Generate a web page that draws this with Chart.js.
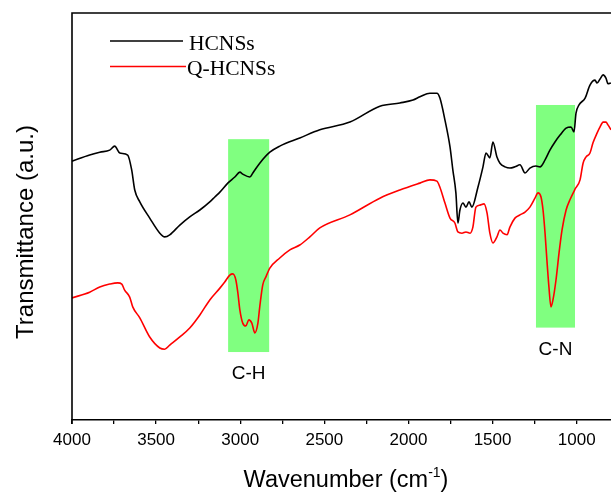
<!DOCTYPE html>
<html>
<head>
<meta charset="utf-8">
<script src="https://cdn.jsdelivr.net/npm/chart.js@4.4.1/dist/chart.umd.min.js"></script>
<style>
  html, body { margin: 0; padding: 0; background: #fff; }
  #wrap { width: 611px; height: 492px; }
</style>
</head>
<body>
<div id="wrap"><canvas id="c" width="611" height="492"></canvas></div>
<script>
// ---- data ----
const seriesNames = ['HCNSs', 'Q-HCNSs'];

const hcnsWn = [4000,3895,3835,3776,3746,3716,3669,3645,3627,3597,3538,3478,3449,3419,3359,3300,3240,3181,3151,3121,3074,3032,3002,2985,2943,2925,2884,2824,2765,2646,2527,2348,2170,2051,1973,1932,1872,1831,1813,1783,1753,1736,1718,1706,1694,1676,1658,1640,1623,1587,1557,1539,1516,1498,1474,1456,1426,1397,1367,1337,1307,1278,1242,1218,1188,1159,1129,1099,1063,1034,1016,1004,986,950,921,891,879,861,843,826,814,796];
const hcnsT  = [63.6,65.1,65.8,66.3,67.3,65.6,65.1,61.4,56.5,53.6,49.6,45.9,45.0,45.5,47.9,49.9,51.6,53.6,54.8,56.0,58.2,59.7,60.9,60.4,59.7,60.7,63.1,65.8,67.3,69.3,71.3,73.2,77.1,77.9,78.6,79.4,80.3,80.3,79.1,73.7,67.1,61.4,55.8,48.4,51.6,53.3,52.3,53.6,52.3,57.2,62.2,65.6,64.4,68.3,64.6,63.1,62.2,61.9,62.2,62.7,60.7,61.9,62.4,62.2,63.9,66.3,68.3,70.0,71.7,72.0,70.8,75.4,77.4,79.1,82.3,83.5,82.8,83.8,84.8,84.0,82.6,82.8];

const qhcnsWn = [4000,3895,3835,3776,3728,3704,3687,3657,3639,3597,3538,3478,3449,3419,3359,3300,3240,3181,3121,3092,3062,3044,3026,3014,3002,2985,2967,2949,2931,2913,2895,2884,2866,2848,2824,2765,2705,2646,2586,2527,2348,2170,2051,1932,1872,1831,1813,1783,1753,1724,1706,1682,1658,1634,1617,1599,1575,1551,1533,1516,1498,1474,1456,1438,1414,1397,1367,1337,1307,1278,1248,1230,1212,1200,1188,1177,1165,1153,1141,1123,1105,1087,1063,1040,1010,980,962,945,921,903,879,861,843,826,814,796];
const qhcnsT  = [30.0,31.4,32.7,33.4,33.7,33.4,31.9,30.2,27.8,25.1,20.4,17.7,17.4,18.4,20.4,22.6,25.8,29.5,32.4,33.9,35.6,35.9,34.4,31.2,27.0,23.8,23.1,24.6,23.8,21.4,23.8,27.8,33.2,35.1,37.3,39.8,41.8,43.0,45.0,47.2,50.4,54.5,56.5,58.2,59.0,58.7,57.2,53.3,49.6,48.4,46.2,45.9,46.2,45.9,47.4,52.3,52.8,53.1,50.9,45.9,43.5,45.0,46.7,45.9,45.5,47.4,49.6,50.4,51.1,52.3,54.5,55.8,54.8,51.6,45.9,39.3,32.7,27.8,29.5,34.4,41.0,46.7,51.6,54.1,56.7,59.0,63.1,64.6,65.6,68.1,70.5,72.0,73.2,73.2,72.5,71.3];

const bandLabels = ['C-H', 'C-N'];
const bandFrom   = [3072, 1242];
const bandTo     = [2828, 1010];
const bandTop    = [69.0, 77.4];
const bandBottom = [16.7, 22.7];

const xTickValues = [4000, 3500, 3000, 2500, 2000, 1500, 1000];
const xTitle = 'Wavenumber (cm';
const xTitleSup = '-1';
const yTitle = 'Transmittance (a.u.)';

const zip = (xs, ys) => xs.map((x, i) => ({ x: x, y: ys[i] }));

const SANS = "'Liberation Sans', Arial, sans-serif";
const SERIF = "'Liberation Serif', 'Times New Roman', serif";
Chart.defaults.font.family = SANS;
Chart.defaults.color = '#000';

const decor = {
  id: 'decor',
  beforeDatasetsDraw(chart) {
    const { ctx, scales: { x, y } } = chart;
    ctx.save();
    ctx.fillStyle = 'rgb(128,255,128)';
    for (let i = 0; i < bandLabels.length; i++) {
      const x1 = x.getPixelForValue(bandFrom[i]);
      const x2 = x.getPixelForValue(bandTo[i]);
      const y1 = y.getPixelForValue(bandTop[i]);
      const y2 = y.getPixelForValue(bandBottom[i]);
      ctx.fillRect(x1, y1, x2 - x1, y2 - y1);
    }
    ctx.restore();
  },
  afterDraw(chart) {
    const { ctx, chartArea: a, scales: { x, y } } = chart;
    ctx.save();
    // left axis and top frame
    ctx.strokeStyle = '#000';
    ctx.lineWidth = 1.6;
    ctx.beginPath();
    ctx.moveTo(a.left, a.bottom + 4);
    ctx.lineTo(a.left, a.top);
    ctx.lineTo(chart.width, a.top);
    ctx.stroke();

    // band labels
    ctx.fillStyle = '#000';
    ctx.font = '19px ' + SANS;
    ctx.textAlign = 'center';
    ctx.textBaseline = 'alphabetic';
    for (let i = 0; i < bandLabels.length; i++) {
      const cx = (x.getPixelForValue(bandFrom[i]) + x.getPixelForValue(bandTo[i])) / 2;
      const by = y.getPixelForValue(bandBottom[i]);
      ctx.fillText(bandLabels[i], cx, by + 27);
    }

    // legend
    const colors = ['#000', '#ff0000'];
    const ly = [41, 66.5];
    ctx.font = '21.5px ' + SERIF;
    ctx.textAlign = 'left';
    for (let i = 0; i < seriesNames.length; i++) {
      ctx.strokeStyle = colors[i];
      ctx.lineWidth = 1.6;
      ctx.beginPath();
      ctx.moveTo(110, ly[i]);
      ctx.lineTo(i === 0 ? 183 : 186, ly[i]);
      ctx.stroke();
      ctx.fillStyle = '#000';
      ctx.fillText(seriesNames[i], i === 0 ? 189 : 187, ly[i] + 8.5);
    }

    // x title with superscript
    const mainFont = '23.5px ' + SANS;
    const supFont = '14px ' + SANS;
    ctx.font = mainFont;
    const w1 = ctx.measureText(xTitle).width;
    const w3 = ctx.measureText(')').width;
    ctx.font = supFont;
    const w2 = ctx.measureText(xTitleSup).width;
    const total = w1 + w2 + w3;
    let sx = 346 - total / 2;
    const base = 486.5;
    ctx.font = mainFont;
    ctx.fillText(xTitle, sx, base);
    sx += w1;
    ctx.font = supFont;
    ctx.fillText(xTitleSup, sx, base - 10);
    sx += w2;
    ctx.font = mainFont;
    ctx.fillText(')', sx, base);

    // y title
    ctx.translate(33, 232);
    ctx.rotate(-Math.PI / 2);
    ctx.font = '24px ' + SANS;
    ctx.textAlign = 'center';
    ctx.fillText(yTitle, 0, 0);
    ctx.restore();
  }
};

new Chart(document.getElementById('c'), {
  type: 'line',
  data: {
    datasets: [
      { label: seriesNames[0], data: zip(hcnsWn, hcnsT), borderColor: '#000', borderWidth: 1.6, pointRadius: 0, cubicInterpolationMode: 'monotone' },
      { label: seriesNames[1], data: zip(qhcnsWn, qhcnsT), borderColor: '#ff0000', borderWidth: 1.6, pointRadius: 0, cubicInterpolationMode: 'monotone' }
    ]
  },
  options: {
    responsive: false,
    animation: false,
    devicePixelRatio: 1,
    layout: { padding: { left: 72, top: 13, right: 0, bottom: 0 } },
    plugins: { legend: { display: false }, tooltip: { enabled: false } },
    scales: {
      x: {
        type: 'linear',
        reverse: true,
        min: 796,
        max: 4000,
        afterBuildTicks(s) {
          const out = [];
          for (let v = 1000; v <= 4000; v += 250) out.push({ value: v });
          s.ticks = out;
        },
        afterFit(s) { s.height = 72; },
        border: { display: true, color: '#000', width: 1.6 },
        grid: { drawOnChartArea: false, drawTicks: true, tickLength: 4, color: '#000', lineWidth: 1.3 },
        ticks: {
          autoSkip: false,
          maxRotation: 0,
          padding: 6,
          font: { size: 17 },
          color: '#000',
          callback: (v) => xTickValues.includes(v) ? String(v) : ''
        }
      },
      y: {
        display: false,
        min: 0,
        max: 100
      }
    }
  },
  plugins: [decor]
});
</script>
</body>
</html>
